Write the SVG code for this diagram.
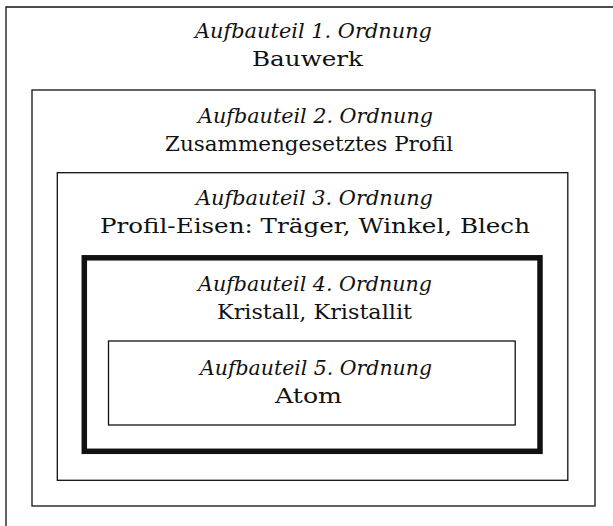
<svg xmlns="http://www.w3.org/2000/svg" width="613" height="526" viewBox="0 0 613 526">
<style>
.frame{fill:none;stroke:#111;stroke-width:1.3}
.thick{fill:none;stroke:#111;stroke-width:5.5}
text{font-family:'DejaVu Serif','Liberation Serif',serif;font-size:20.5px;fill:#111}
.t{font-style:italic}
</style>
<rect width="613" height="526" fill="#fff"/>
<g id="ordnung1">
<path class="frame" d="M6,526 V7 H613"/>
<text class="t" x="195" y="38" textLength="237" lengthAdjust="spacingAndGlyphs">Aufbauteil 1. Ordnung</text>
<text class="n" x="252" y="66" textLength="111" lengthAdjust="spacingAndGlyphs">Bauwerk</text>
</g>
<g id="ordnung2">
<rect class="frame" x="32" y="90" width="563" height="416"/>
<text class="t" x="198" y="123" textLength="235" lengthAdjust="spacingAndGlyphs">Aufbauteil 2. Ordnung</text>
<text class="n" x="165" y="151" textLength="288" lengthAdjust="spacingAndGlyphs">Zusammengesetztes Profil</text>
</g>
<g id="ordnung3">
<rect class="frame" x="57.3" y="172.7" width="510.5" height="307.6"/>
<text class="t" x="196" y="205" textLength="237" lengthAdjust="spacingAndGlyphs">Aufbauteil 3. Ordnung</text>
<text class="n" x="100" y="233" textLength="430" lengthAdjust="spacingAndGlyphs">Profil-Eisen: Träger, Winkel, Blech</text>
</g>
<g id="ordnung4">
<rect class="thick" x="84.3" y="257.8" width="455.7" height="193.5"/>
<text class="t" x="198" y="291" textLength="234" lengthAdjust="spacingAndGlyphs">Aufbauteil 4. Ordnung</text>
<text class="n" x="217" y="319" textLength="195" lengthAdjust="spacingAndGlyphs">Kristall, Kristallit</text>
</g>
<g id="ordnung5">
<rect class="frame" x="108.5" y="341" width="406.7" height="84"/>
<text class="t" x="200" y="375" textLength="232" lengthAdjust="spacingAndGlyphs">Aufbauteil 5. Ordnung</text>
<text class="n" x="275" y="403" textLength="67" lengthAdjust="spacingAndGlyphs">Atom</text>
</g>
<g id="connectors"/>
</svg>
